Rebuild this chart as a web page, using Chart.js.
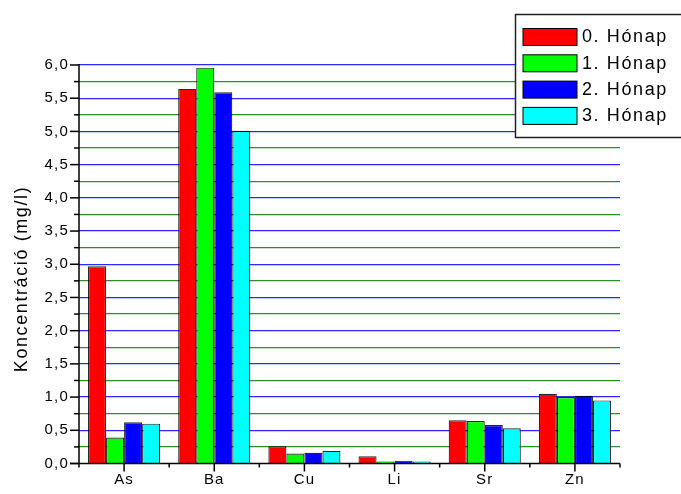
<!DOCTYPE html>
<html><head><meta charset="utf-8">
<script src="https://cdn.jsdelivr.net/npm/chart.js@4"></script>
<style>html,body{margin:0;padding:0;background:#fff}#w{width:681px;height:494px}</style>
</head><body><div id="w"><canvas id="c" width="681" height="494"></canvas></div>
<script>
const categories = ['As','Ba','Cu','Li','Sr','Zn'];
const seriesNames = ['0. Hónap','1. Hónap','2. Hónap','3. Hónap'];
const month0 = [2.97, 5.64, 0.26, 0.11, 0.65, 1.05];
const month1 = [0.39, 5.96, 0.15, 0.03, 0.64, 1.00];
const month2 = [0.62, 5.59, 0.16, 0.04, 0.58, 1.02];
const month3 = [0.60, 5.01, 0.19, 0.03, 0.53, 0.95];
const yTicks = [0,0.5,1,1.5,2,2.5,3,3.5,4,4.5,5,5.5,6];
const yTitle = 'Koncentráció (mg/l)';
const colors = ['#ff0000','#00ff00','#0000ff','#00ffff'];
const FONT = '"Liberation Sans", Arial, sans-serif';
const LS = '1.2px';

const spacing = {
  id:'spacing',
  beforeUpdate(chart){ chart.ctx.letterSpacing = LS; },
  beforeLayout(chart){ chart.ctx.letterSpacing = LS; },
  beforeDraw(chart){ chart.ctx.letterSpacing = LS; }
};

const extraDraw = {
  id:'extraDraw',
  afterDatasetsDraw(chart){
    const ctx = chart.ctx, y = chart.scales.y, x = chart.scales.x, a = chart.chartArea;
    ctx.save();
    ctx.strokeStyle = '#000'; ctx.lineWidth = 1.5;
    ctx.beginPath(); ctx.moveTo(a.left, a.top-1); ctx.lineTo(a.left, a.bottom); ctx.stroke();
    ctx.beginPath(); ctx.moveTo(a.left-9, a.bottom); ctx.lineTo(a.right, a.bottom); ctx.stroke();
    for (let v=0; v<=6.0001; v+=0.25){
      const py = y.getPixelForValue(v);
      const major = Math.abs(v*2 - Math.round(v*2)) < 1e-6;
      ctx.beginPath(); ctx.moveTo(a.left - (major?9:5), py); ctx.lineTo(a.left, py); ctx.stroke();
    }
    const n = categories.length;
    for (let i=0;i<n;i++){
      const px = x.getPixelForValue(i);
      ctx.beginPath(); ctx.moveTo(px, a.bottom); ctx.lineTo(px, a.bottom+8); ctx.stroke();
    }
    for (let i=0;i<=n;i++){
      const px = x.getPixelForValue(i-0.5);
      ctx.beginPath(); ctx.moveTo(px, a.bottom); ctx.lineTo(px, a.bottom+4); ctx.stroke();
    }
    // y-axis title
    ctx.save();
    ctx.letterSpacing = '1.6px';
    ctx.translate(22, 279); ctx.rotate(-Math.PI/2);
    ctx.font = '18px ' + FONT; ctx.fillStyle = '#000';
    ctx.textAlign = 'center'; ctx.textBaseline = 'middle';
    ctx.fillText(yTitle, 0, 0);
    ctx.restore();
    // legend
    const L = 515.5, T = 14.5, R = 690, B = 137.5;
    ctx.fillStyle = '#fff'; ctx.fillRect(L, T, R-L, B-T);
    ctx.strokeStyle = '#222'; ctx.lineWidth = 1.5;
    ctx.strokeRect(L, T, R-L, B-T);
    ctx.letterSpacing = '1.6px';
    ctx.font = '18px ' + FONT; ctx.textBaseline = 'middle'; ctx.textAlign = 'left';
    chart.data.datasets.forEach((ds, i) => {
      const ry = 28.5 + i*26.3;
      ctx.fillStyle = ds.backgroundColor; ctx.fillRect(523, ry, 54, 17);
      ctx.strokeStyle = '#000'; ctx.lineWidth = 1; ctx.strokeRect(523, ry, 54, 17);
      ctx.fillStyle = '#000'; ctx.fillText(ds.label, 582, ry + 9);
    });
    ctx.restore();
  }
};

new Chart(document.getElementById('c'), {
  type:'bar',
  data:{
    labels: categories,
    datasets: [month0, month1, month2, month3].map((d,i)=>({
      label: seriesNames[i], data: d, backgroundColor: colors[i],
      borderColor: 'rgba(0,0,0,0.85)', borderWidth: 1.2,
      categoryPercentage: 0.8, barPercentage: 1.0
    }))
  },
  options:{
    responsive:false, animation:false, devicePixelRatio:1,
    layout:{padding:{top:65, right:61, left:0, bottom:0}},
    plugins:{legend:{display:false}, tooltip:{enabled:false}},
    scales:{
      x:{
        grid:{display:false, drawTicks:false},
        border:{display:false},
        ticks:{font:{family:FONT, size:15}, color:'#000', padding:7},
        afterFit(s){ s.height = 30.5; }
      },
      y:{
        min:0, max:6,
        afterBuildTicks(s){ const t=[]; for(let v=0; v<=6.0001; v+=0.25) t.push({value: Math.round(v*100)/100}); s.ticks = t; },
        grid:{drawTicks:false,
          color(c){ const v=c.tick.value; if (v===0) return 'rgba(0,0,0,0)'; return (Math.abs(v*2-Math.round(v*2))<1e-6) ? '#2a2aff' : '#2e8b2e'; },
          lineWidth:1.2},
        border:{display:false},
        ticks:{font:{family:FONT, size:15}, color:'#000', padding:10, autoSkip:false,
          callback(v){ return (Math.abs(v*2-Math.round(v*2))<1e-6 && yTicks.includes(v)) ? v.toFixed(1).replace('.',',') : ''; }},
        title:{display:false},
        afterFit(s){ s.width = 79; }
      }
    }
  },
  plugins:[spacing, extraDraw]
});
</script></body></html>
